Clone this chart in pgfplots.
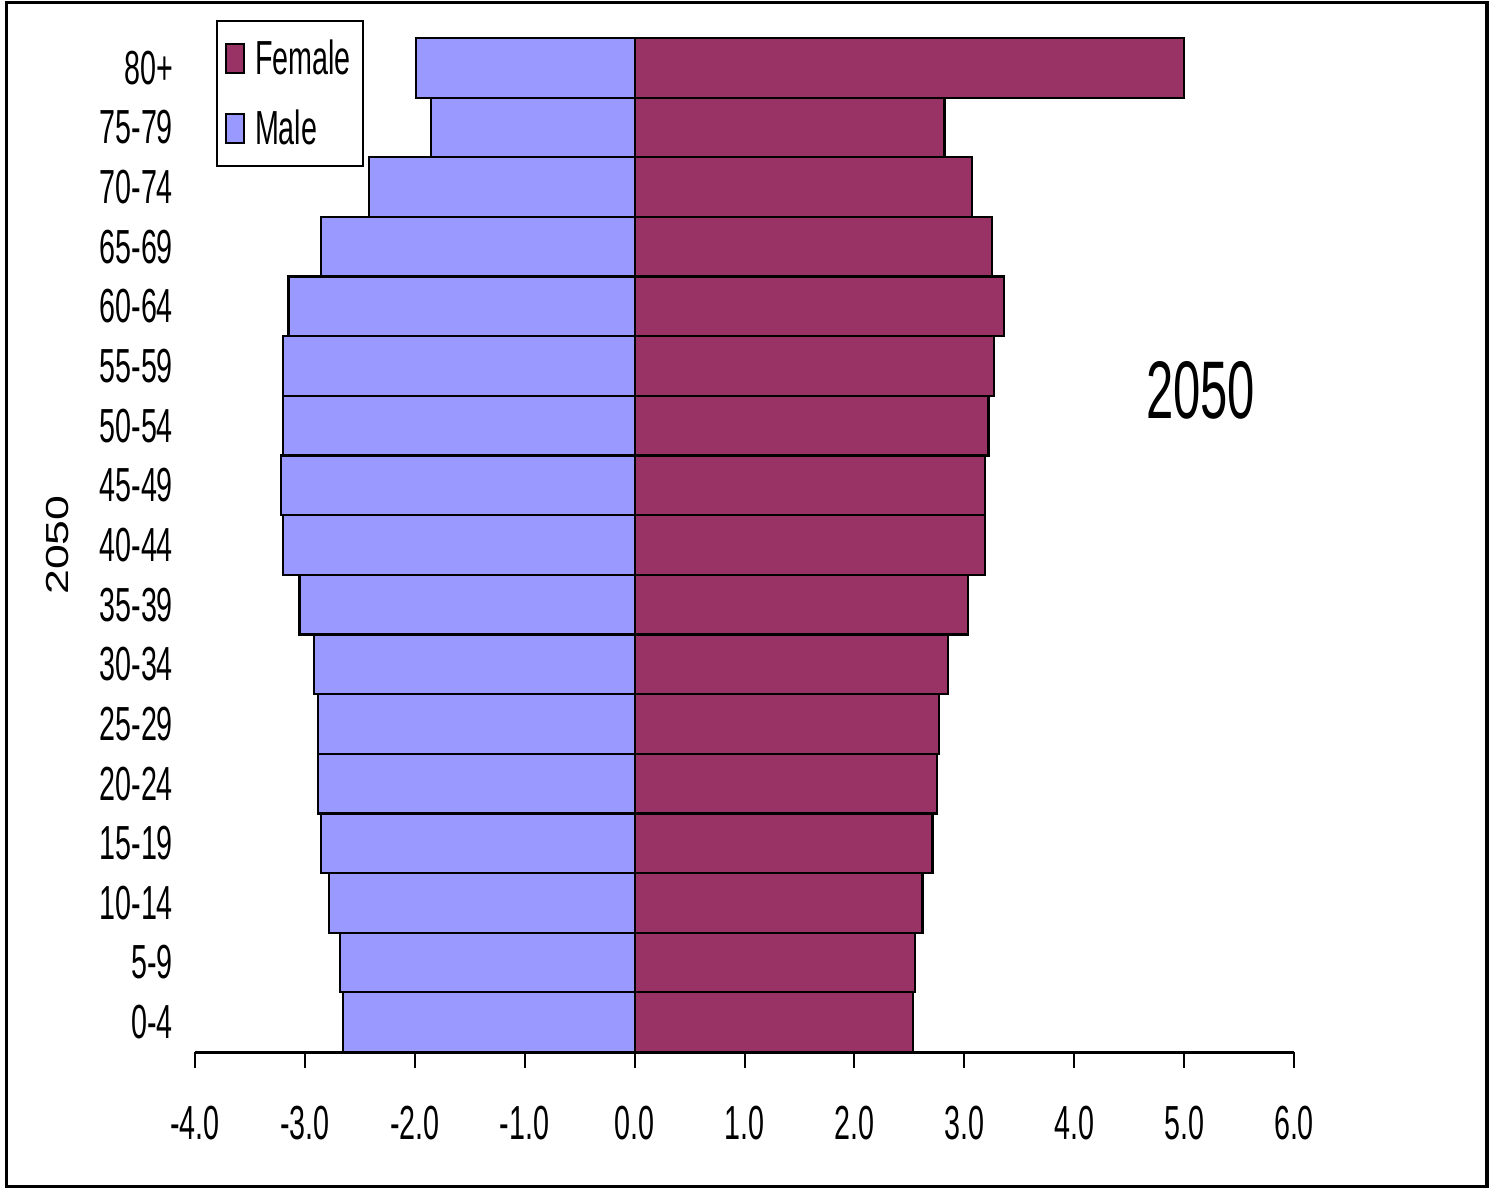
\documentclass[border=0pt]{standalone}
\usepackage{fontspec}
\setmainfont{Liberation Sans}
\newfontfamily\narrow[FakeStretch=0.6]{Liberation Sans}
\newfontfamily\wide[FakeStretch=1.4]{Liberation Sans}
\usepackage{pgfplots}
\pgfplotsset{compat=1.18}
\definecolor{fem}{HTML}{993366}
\definecolor{mal}{HTML}{9999FF}
\begin{document}
\begin{tikzpicture}
\useasboundingbox (-97.5bp,-68bp) rectangle (648bp,526bp);
\draw[line width=1.6bp] (-94.25bp,-67.25bp) rectangle (646bp,524.75bp);
\begin{axis}[
  at={(0,0)}, anchor=south west,
  scale only axis, width=549.5bp, height=507bp,
  xmin=-4, xmax=6, ymin=-0.5, ymax=16.5,
  xbar, bar width=1, bar shift=0pt,
  axis x line*=bottom, axis y line*=left,
  x axis line style={-, line width=1.5bp},
  y axis line style={draw=none},
  ytick style={draw=none},
  xtick style={line width=1bp, black},
  tick align=outside, major tick length=8bp,
  xtick={-4,-3,-2,-1,0,1,2,3,4,5,6},
  xticklabels={-4.0,-3.0,-2.0,-1.0,0.0,1.0,2.0,3.0,4.0,5.0,6.0},
  ytick={0,1,2,3,4,5,6,7,8,9,10,11,12,13,14,15,16},
  yticklabels={0-4,5-9,10-14,15-19,20-24,25-29,30-34,35-39,40-44,45-49,50-54,55-59,60-64,65-69,70-74,75-79,80+},
  ticklabel style={font=\narrow\fontsize{24}{24}\selectfont},
  xticklabel style={yshift=-15.5bp},
  yticklabel style={xshift=0.5bp},
  ylabel={2050},
  ylabel style={at={(axis description cs:0,0.5)}, anchor=center, yshift=68.5bp, font=\wide\fontsize{16}{16}\selectfont},
  legend image code/.code={\draw[#1, line width=1bp] (0bp,-7.25bp) rectangle (9bp,7.25bp); \path (12bp,0bp);},
  legend style={at={(axis description cs:0.0191,1.0178)}, anchor=north west,
    draw=black, line width=1bp, font=\narrow\fontsize{24}{24}\selectfont,
    inner xsep=4bp, inner ysep=7.5bp, row sep=12bp, cells={anchor=west}},
  legend cell align=left,
]
\addplot[fill=fem, draw=black, line width=1.1bp] coordinates {
(2.53,0) (2.55,1) (2.62,2) (2.71,3) (2.75,4) (2.77,5) (2.85,6) (3.03,7) (3.19,8)
(3.19,9) (3.22,10) (3.27,11) (3.36,12) (3.25,13) (3.07,14) (2.82,15) (5.00,16)};
\addlegendentry{Female}
\addplot[fill=mal, draw=black, line width=1.1bp] coordinates {
(-2.65,0) (-2.68,1) (-2.78,2) (-2.85,3) (-2.88,4) (-2.88,5) (-2.92,6) (-3.05,7) (-3.20,8)
(-3.22,9) (-3.20,10) (-3.20,11) (-3.15,12) (-2.85,13) (-2.42,14) (-1.85,15) (-1.99,16)};
\addlegendentry{Male}
\node[font=\narrow\fontsize{41}{41}\selectfont] at (axis cs:5.15,10.6) {2050};
\end{axis}
\end{tikzpicture}
\end{document}
